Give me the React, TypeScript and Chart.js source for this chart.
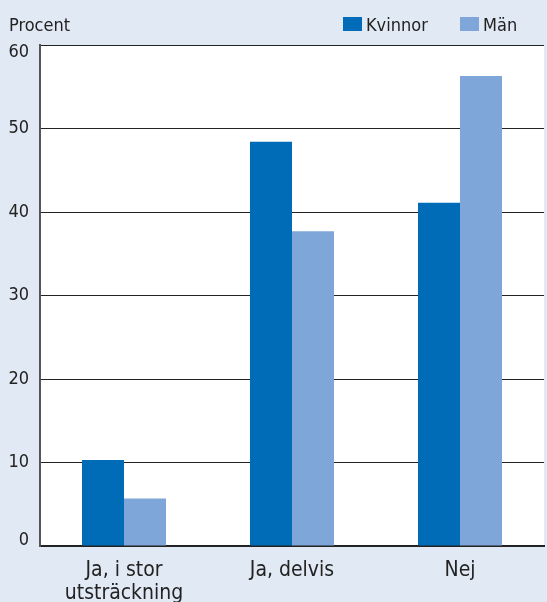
import React, { useEffect, useRef } from "react";
import { Chart, registerables } from "chart.js";

Chart.register(...registerables);

const categories: (string | string[])[] = [["Ja, i stor", "utsträckning"], "Ja, delvis", "Nej"];
const kvinnor = [10.3, 48.4, 41.1];
const man = [5.7, 37.7, 56.3];
const yTicks = [0, 10, 20, 30, 40, 50, 60];
const yTitle = "Procent";
const seriesNames = ["Kvinnor", "Män"];
const seriesColors = ["#006bb6", "#7fa6d8"];

const FONT = "'DejaVu Sans Condensed', 'DejaVu Sans', sans-serif";
const BG = "#e1e9f4";
const TEXT = "#222222";

const decorPlugin = {
  id: "decorPlugin",
  beforeDraw(chart: any) {
    const { ctx, chartArea, width, height } = chart;
    ctx.save();
    ctx.fillStyle = BG;
    ctx.fillRect(0, 0, width, height);
    ctx.fillStyle = "#ffffff";
    ctx.fillRect(chartArea.left, chartArea.top, chartArea.right - chartArea.left, chartArea.bottom - chartArea.top);
    ctx.restore();
  },
  afterDraw(chart: any) {
    const { ctx, chartArea } = chart;
    ctx.save();
    ctx.font = `18px ${FONT}`;
    ctx.fillStyle = TEXT;
    ctx.textBaseline = "alphabetic";
    ctx.textAlign = "left";
    ctx.fillText(yTitle, 9, 31);
    // legend
    const legendX = [343, 460];
    chart.data.datasets.forEach((ds: any, i: number) => {
      const x = legendX[i];
      ctx.fillStyle = ds.backgroundColor;
      ctx.fillRect(x, 17, 19, 14);
      ctx.fillStyle = TEXT;
      ctx.fillText(ds.label, x + 23, 31);
    });
    // y tick labels, kept inside the plot's vertical extent
    const yScale = chart.scales.y;
    ctx.textAlign = "right";
    ctx.textBaseline = "middle";
    ctx.fillStyle = TEXT;
    yTicks.forEach((v) => {
      let y = yScale.getPixelForValue(v);
      y = Math.max(chartArea.top + 7, Math.min(chartArea.bottom - 6, y));
      ctx.fillText(String(v), 29, y);
    });
    ctx.restore();
  },
};

export default function App() {
  const ref = useRef<HTMLCanvasElement>(null);
  useEffect(() => {
    if (!ref.current) return;
    const chart = new Chart(ref.current, {
      type: "bar",
      data: {
        labels: categories,
        datasets: [
          { label: seriesNames[0], data: kvinnor, backgroundColor: seriesColors[0], barPercentage: 1, categoryPercentage: 0.5 },
          { label: seriesNames[1], data: man, backgroundColor: seriesColors[1], barPercentage: 1, categoryPercentage: 0.5 },
        ],
      },
      options: {
        animation: false,
        responsive: false,
        layout: { padding: { left: 0, right: 3, top: 45, bottom: 0 } },
        plugins: {
          tooltip: { enabled: false },
          legend: { display: false },
        },
        scales: {
          x: {
            grid: { display: false, drawTicks: false },
            border: { display: true, color: "#222222", width: 2 },
            ticks: {
              color: TEXT,
              font: { family: FONT, size: 21, lineHeight: 1.05 },
              padding: 14,
              maxRotation: 0,
              autoSkip: false,
            },
            afterFit(scale: any) {
              scale.height = 56;
            },
          },
          y: {
            min: 0,
            max: 60,
            afterBuildTicks(scale: any) {
              scale.ticks = yTicks.map((v) => ({ value: v }));
            },
            grid: { color: "#222222", lineWidth: 1, drawTicks: false },
            border: { display: true, color: "#555555", width: 2 },
            ticks: { display: false },
            afterFit(scale: any) {
              scale.width = 40;
            },
          },
        },
      },
      plugins: [decorPlugin],
    });
    return () => chart.destroy();
  }, []);
  return (
    <div style={{ position: "fixed", left: 0, top: 0, width: 547, height: 602, background: BG }}>
      <canvas ref={ref} width={547} height={602} />
    </div>
  );
}
